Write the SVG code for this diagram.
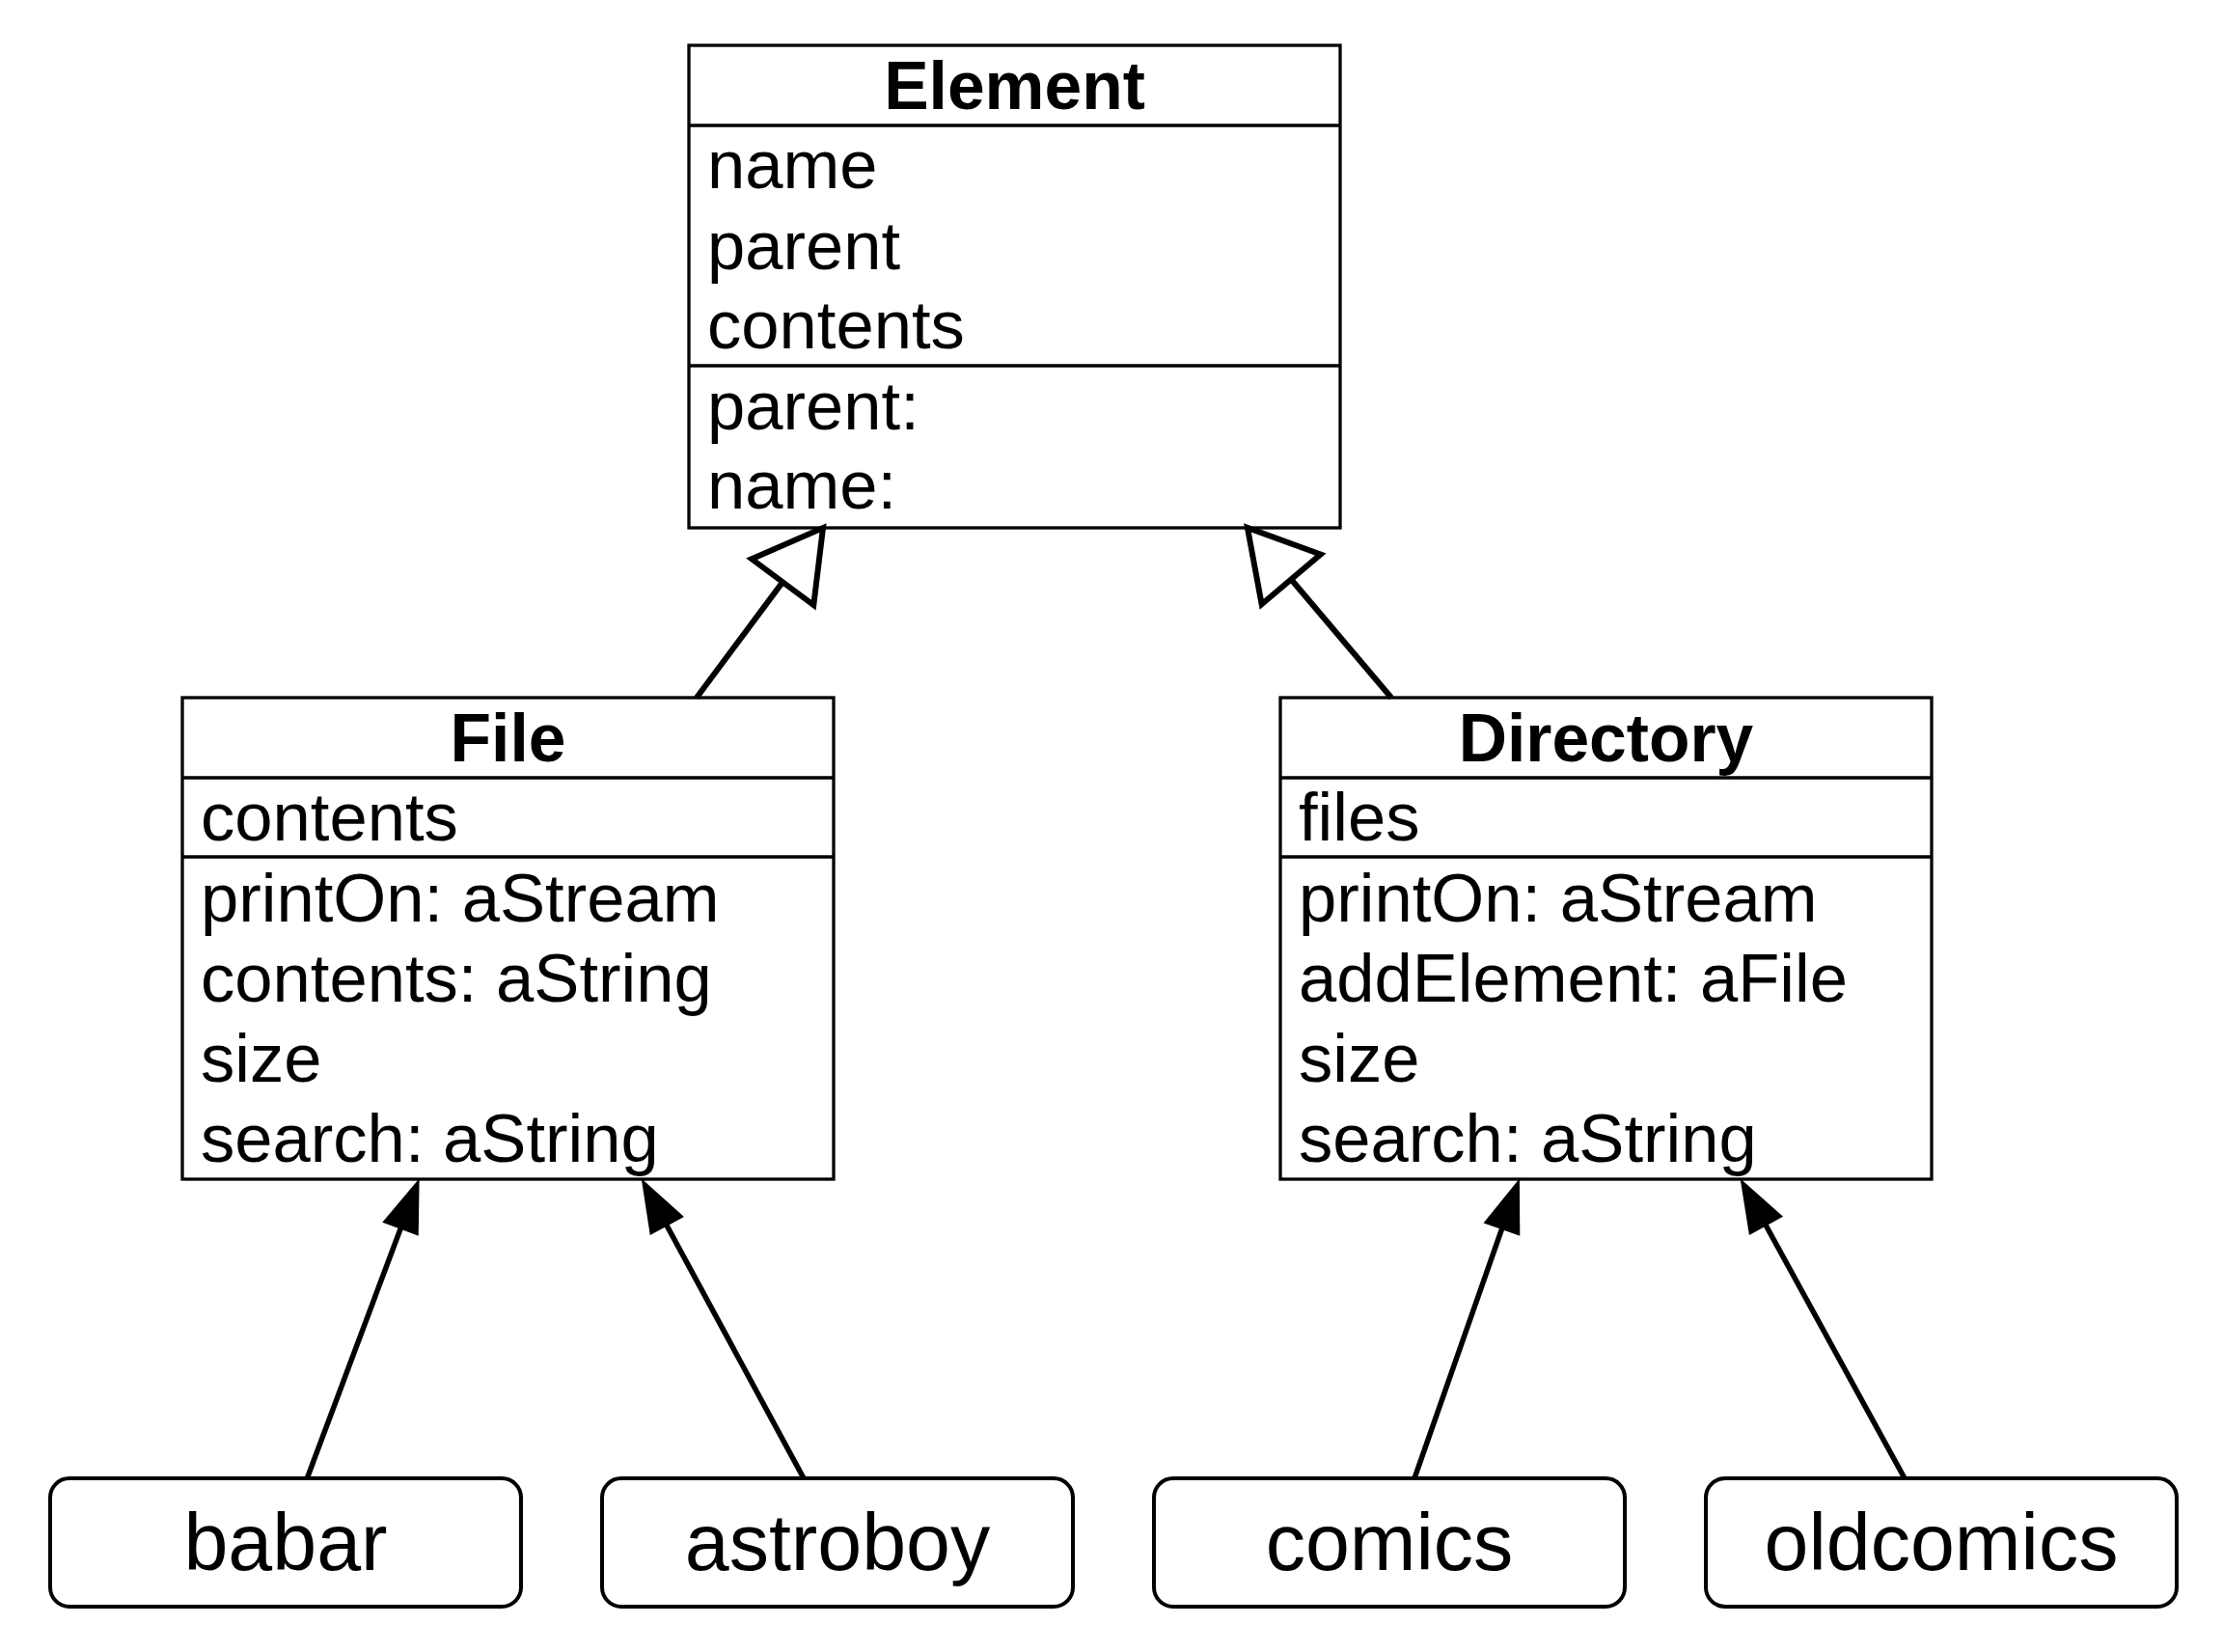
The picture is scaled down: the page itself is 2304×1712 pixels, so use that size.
<svg xmlns="http://www.w3.org/2000/svg" width="2304" height="1712" viewBox="0 0 2304 1712">
<style>
.box{fill:#fff;stroke:#000;stroke-width:3.3}
.div{stroke:#000;stroke-width:3.3}
.obj{fill:#fff;stroke:#000;stroke-width:4}
.t{font-family:"Liberation Sans",Arial,Helvetica,sans-serif;font-size:70.6px;fill:#000}
.b{font-family:"Liberation Sans",Arial,Helvetica,sans-serif;font-size:69.6px;font-weight:bold;fill:#000;text-anchor:middle}
.o{font-family:"Liberation Sans",Arial,Helvetica,sans-serif;font-size:82.5px;fill:#000;text-anchor:middle}
.gen{fill:none;stroke:#000;stroke-width:6}
.inst{fill:none;stroke:#000;stroke-width:5.5}
</style>
<defs>
<marker id="hollow" viewBox="0 0 80 90" markerWidth="80" markerHeight="90" refX="32" refY="45" orient="auto" markerUnits="userSpaceOnUse" overflow="visible">
<path d="M2,5 L72,45 L2,85 Z" fill="#fff" stroke="#000" stroke-width="6"/>
</marker>
<marker id="filled" viewBox="0 0 60 44" markerWidth="60" markerHeight="44" refX="28" refY="22" orient="auto" markerUnits="userSpaceOnUse" overflow="visible">
<path d="M2,2 L58,22 L2,42 Z" fill="#000"/>
</marker>
</defs>
<rect width="2304" height="1712" fill="#fff"/>

<g id="Element">
<rect class="box" x="714" y="47" width="675" height="500"/>
<line class="div" x1="714" y1="130" x2="1389" y2="130"/>
<line class="div" x1="714" y1="379" x2="1389" y2="379"/>
<text class="b" x="1051.5" y="112.5">Element</text>
<text class="t" x="733" y="195">name</text>
<text class="t" x="733" y="278.5">parent</text>
<text class="t" x="733" y="361">contents</text>
<text class="t" x="733" y="444.5">parent:</text>
<text class="t" x="733" y="527">name:</text>
</g>

<g id="File">
<rect class="box" x="189" y="723" width="675" height="499"/>
<line class="div" x1="189" y1="806" x2="864" y2="806"/>
<line class="div" x1="189" y1="888" x2="864" y2="888"/>
<text class="b" x="526.5" y="788.5">File</text>
<text class="t" x="208" y="871">contents</text>
<text class="t" x="208" y="955">printOn: aStream</text>
<text class="t" x="208" y="1037.5">contents: aString</text>
<text class="t" x="208" y="1121">size</text>
<text class="t" x="208" y="1203.5">search: aString</text>
</g>

<g id="Directory">
<rect class="box" x="1327" y="723" width="675" height="499"/>
<line class="div" x1="1327" y1="806" x2="2002" y2="806"/>
<line class="div" x1="1327" y1="888" x2="2002" y2="888"/>
<text class="b" x="1664.5" y="788.5">Directory</text>
<text class="t" x="1346" y="871">files</text>
<text class="t" x="1346" y="955">printOn: aStream</text>
<text class="t" x="1346" y="1037.5">addElement: aFile</text>
<text class="t" x="1346" y="1121">size</text>
<text class="t" x="1346" y="1203.5">search: aString</text>
</g>

<g id="babar">
<rect class="obj" x="52" y="1532" width="488" height="133" rx="20" ry="20"/>
<text class="o" x="296" y="1627">babar</text>
</g>
<g id="astroboy">
<rect class="obj" x="624" y="1532" width="488" height="133" rx="20" ry="20"/>
<text class="o" x="868" y="1627">astroboy</text>
</g>
<g id="comics">
<rect class="obj" x="1196" y="1532" width="488" height="133" rx="20" ry="20"/>
<text class="o" x="1440" y="1627">comics</text>
</g>
<g id="oldcomics">
<rect class="obj" x="1768" y="1532" width="488" height="133" rx="20" ry="20"/>
<text class="o" x="2012" y="1627">oldcomics</text>
</g>

<g id="connectors">
<path class="gen" d="M722,723 L829.1,579.1" marker-end="url(#hollow)"/>
<path class="gen" d="M1442,723 L1318.8,577.5" marker-end="url(#hollow)"/>
<path class="inst" d="M318.3,1532 L424.1,1249.3" marker-end="url(#filled)"/>
<path class="inst" d="M833,1532 L679,1247.7" marker-end="url(#filled)"/>
<path class="inst" d="M1466,1532 L1565,1249.5" marker-end="url(#filled)"/>
<path class="inst" d="M1974,1532 L1818,1247.6" marker-end="url(#filled)"/>
</g>
</svg>
